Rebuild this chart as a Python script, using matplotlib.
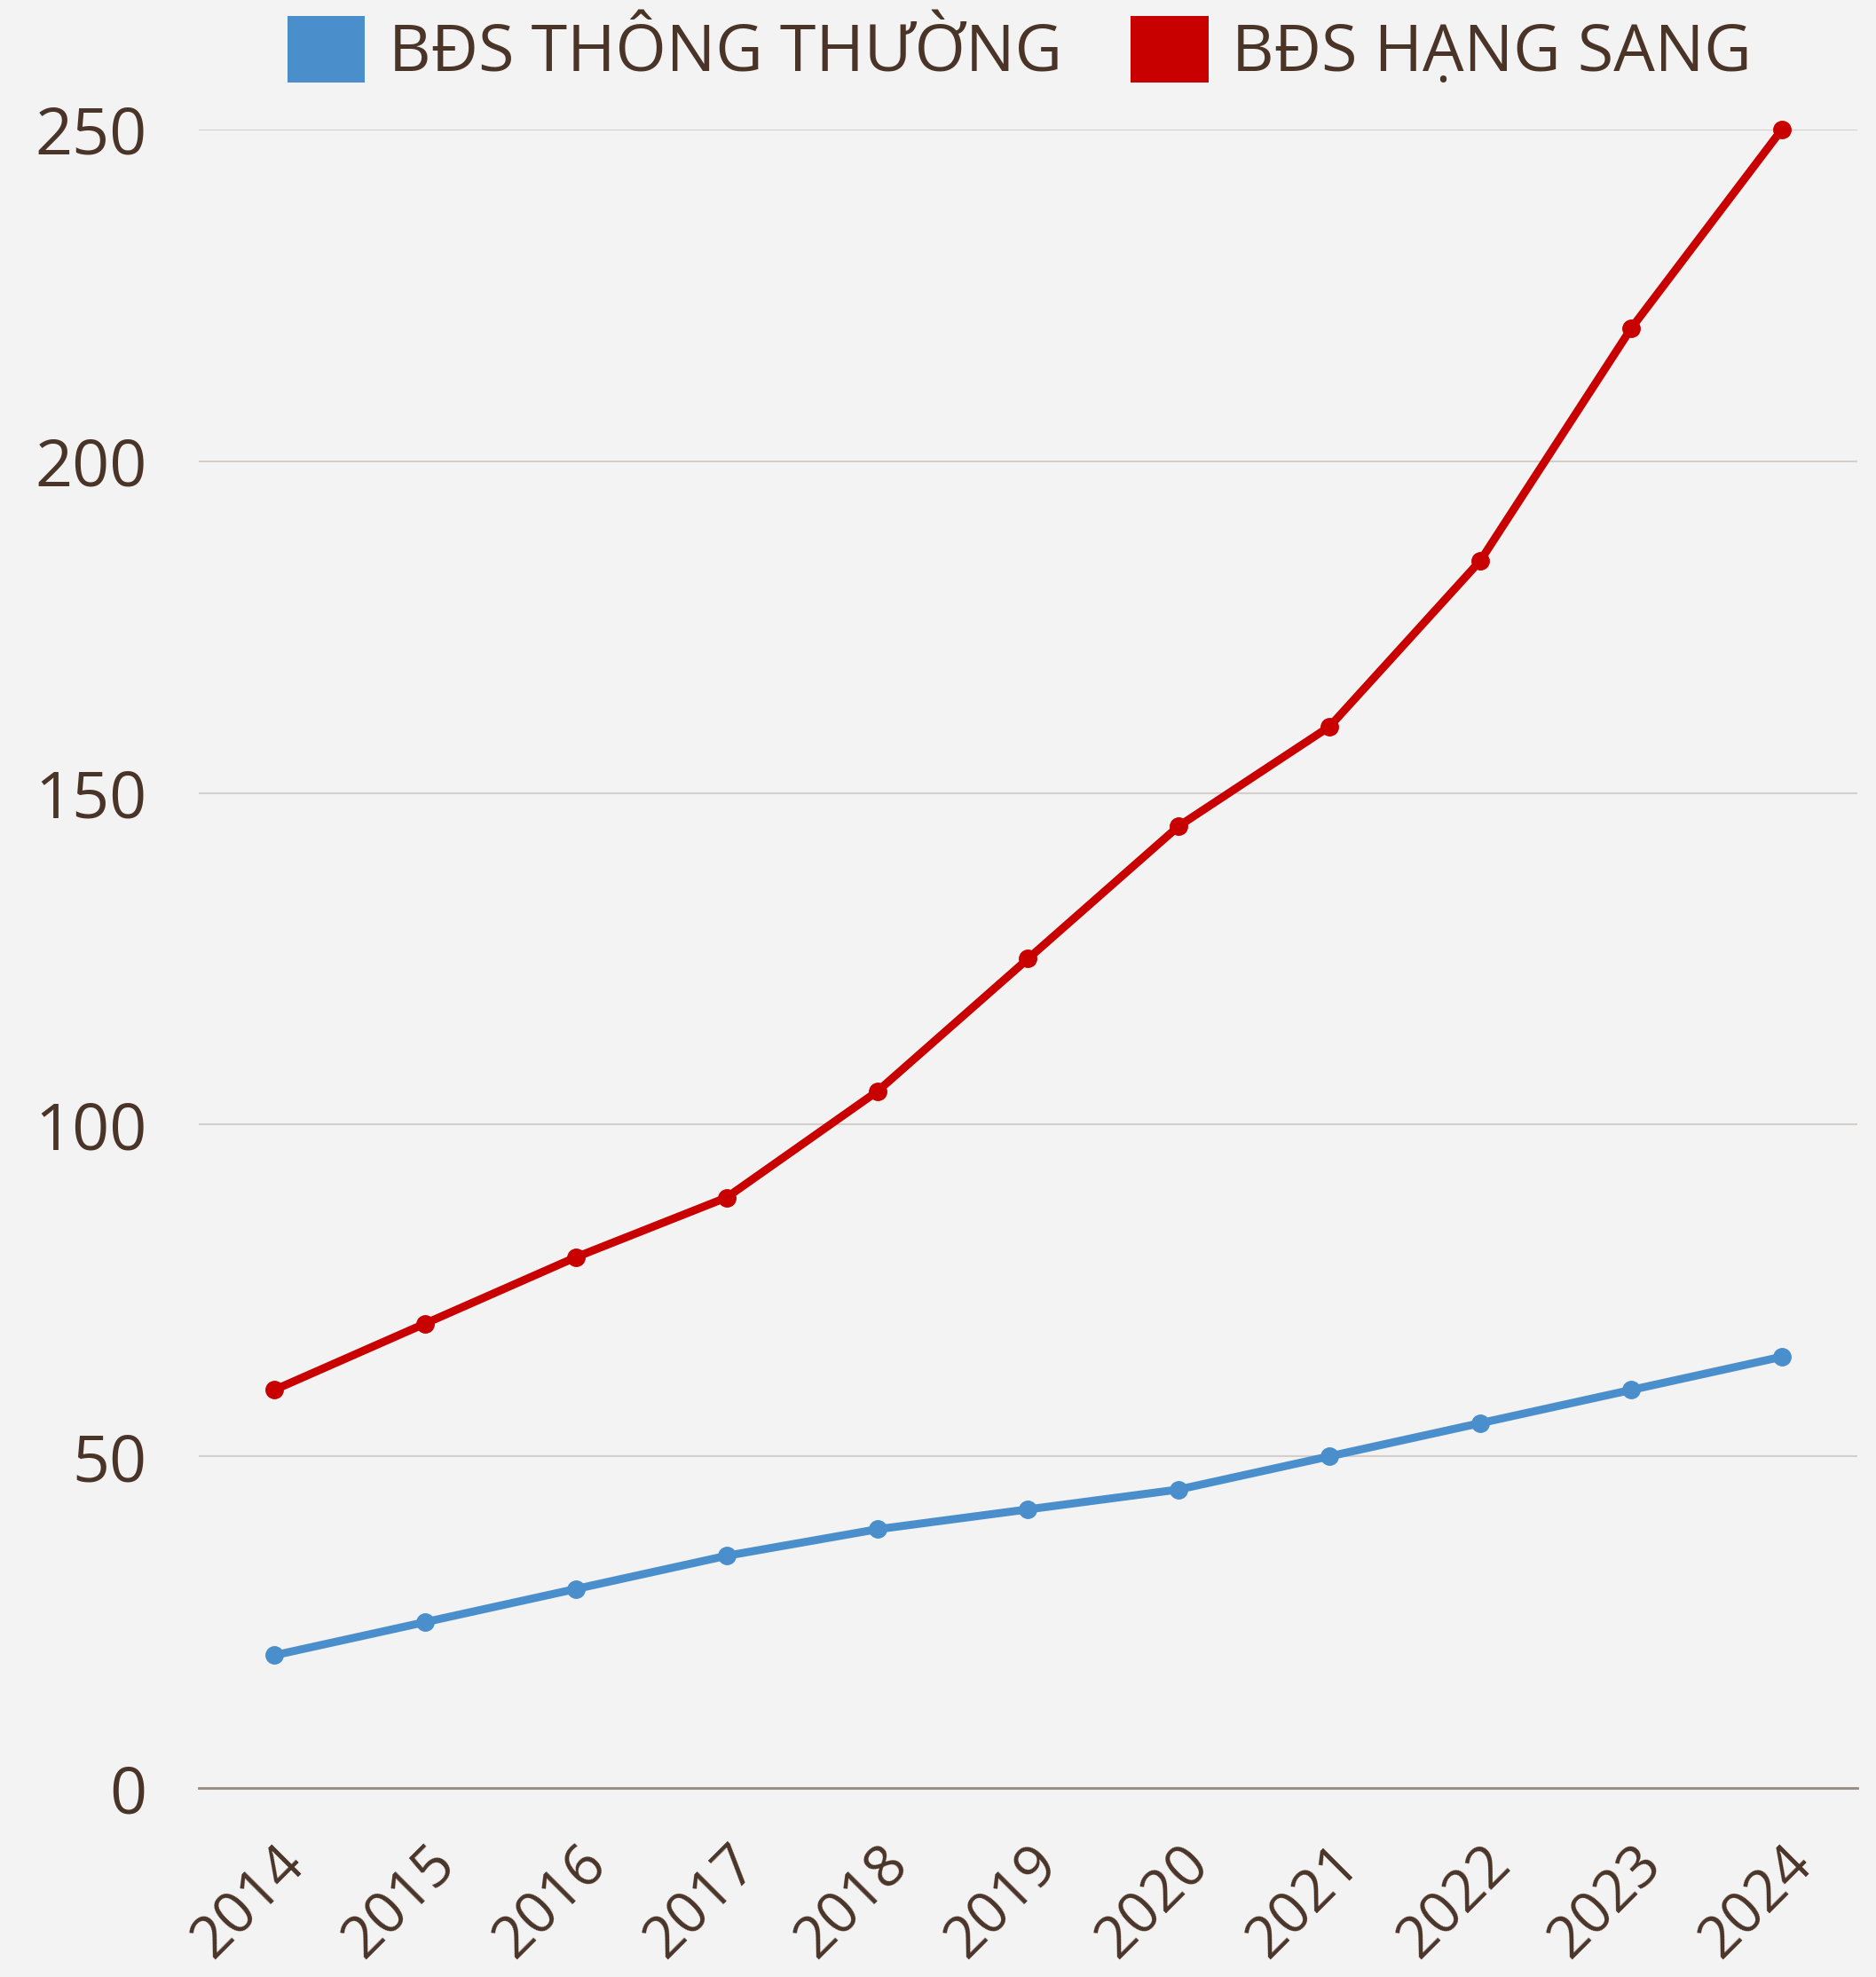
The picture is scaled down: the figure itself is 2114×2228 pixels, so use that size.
import matplotlib.pyplot as plt
import matplotlib.transforms as mtransforms
from matplotlib.patches import Patch

OUT_FILENAME = 'out.png'
IMAGE_DPI = 100

years = ['2014', '2015', '2016', '2017', '2018', '2019', '2020', '2021', '2022', '2023', '2024']
thong_thuong = [20, 25, 30, 35, 39, 42, 45, 50, 55, 60, 65]
hang_sang = [60, 70, 80, 89, 105, 125, 145, 160, 185, 220, 250]
series_names = ['BĐS THÔNG THƯỜNG', 'BĐS HẠNG SANG']
y_ticks = [0, 50, 100, 150, 200, 250]

BLUE = '#4a8fcb'
RED = '#c80000'
TEXT = '#4a3428'
BG = '#f3f3f3'

plt.rcParams['font.family'] = ['Open Sans', 'DejaVu Sans']

fig = plt.figure(figsize=(21.14, 22.28), dpi=IMAGE_DPI, facecolor=BG)
ax = fig.add_axes([0.106, 0.0956, 0.884, 0.8389])
ax.set_facecolor(BG)

xs = list(range(len(years)))
ax.plot(xs, thong_thuong, color=BLUE, lw=6.5, marker='o', markersize=14,
        clip_on=False, zorder=3)
ax.plot(xs, hang_sang, color=RED, lw=6.5, marker='o', markersize=14,
        clip_on=False, zorder=3)

ax.set_xlim(-0.5, len(years) - 0.5)
ax.set_ylim(0, 250)
ax.set_yticks(y_ticks)
ax.set_yticklabels([str(v) for v in y_ticks], fontsize=53, color=TEXT)
ax.set_xticks(xs)
ax.set_xticklabels([])

# rotated year labels, placed by hand so they can sit a bit right of the tick
lbl_trans = mtransforms.offset_copy(ax.get_xaxis_transform(), fig=fig,
                                    x=18, y=-55, units='points')
for i, yr in enumerate(years):
    ax.text(i, 0, yr, transform=lbl_trans, fontsize=47, color=TEXT,
            rotation=45, ha='right', va='center', rotation_mode='anchor')

ax.tick_params(axis='y', length=0, pad=42)
ax.tick_params(axis='x', length=0)
ax.grid(axis='y', color='#d2cfcc', lw=1.5)
ax.set_axisbelow(True)
for s in ['top', 'right', 'left']:
    ax.spines[s].set_visible(False)
ax.spines['bottom'].set_color('#978a82')
ax.spines['bottom'].set_linewidth(2)

handles = [Patch(facecolor=BLUE, edgecolor='none'),
           Patch(facecolor=RED, edgecolor='none')]
fig.legend(handles, series_names, loc='center', bbox_to_anchor=(0.5435, 0.974),
           ncol=2, frameon=False, fontsize=53, labelcolor=TEXT,
           handlelength=1.19, handleheight=1.19, handletextpad=0.36,
           columnspacing=1.05, borderaxespad=0)

fig.savefig(OUT_FILENAME, dpi=IMAGE_DPI, facecolor=BG)
print("Chart written to " + OUT_FILENAME)
